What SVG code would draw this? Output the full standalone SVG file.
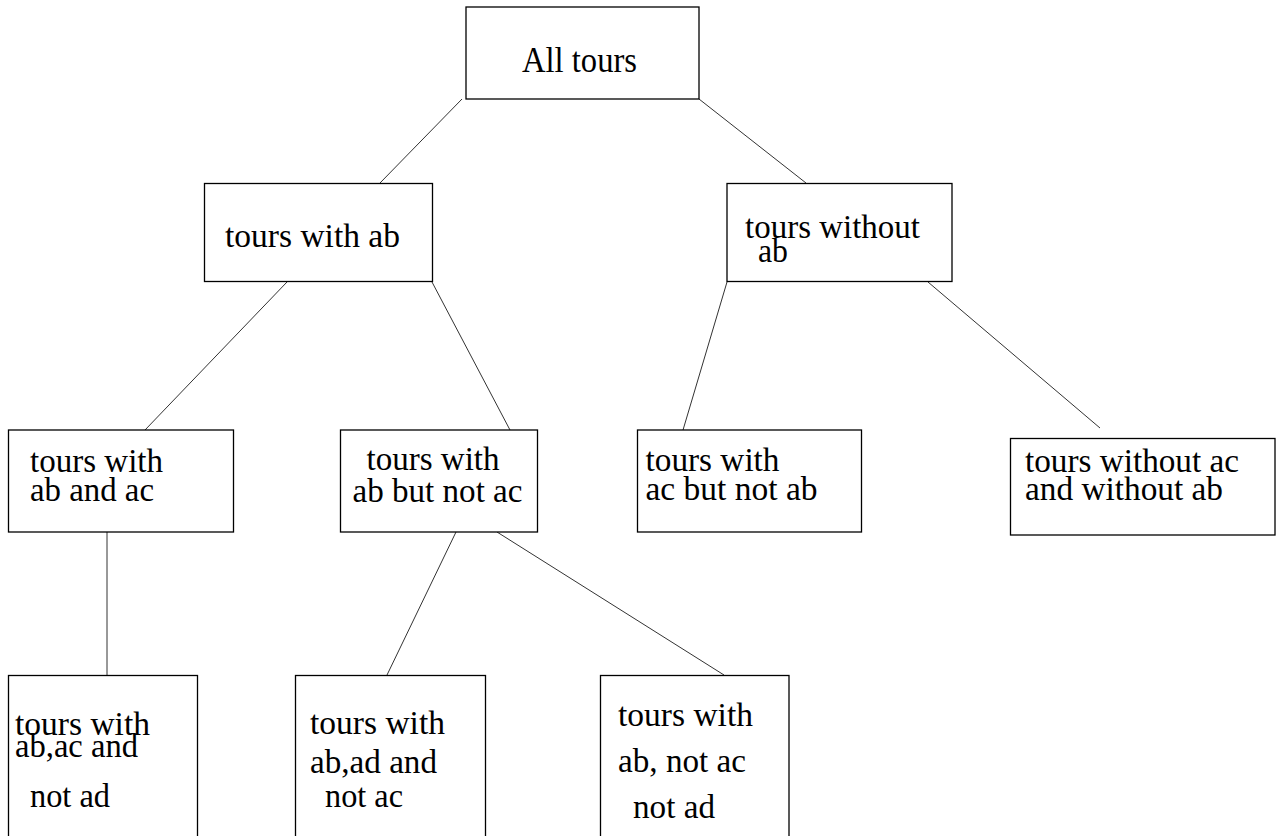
<svg xmlns="http://www.w3.org/2000/svg" width="1277" height="836" viewBox="0 0 1277 836">
<style>
.box{fill:#ffffff;stroke:#000000;stroke-width:1.3}
.t{font-family:"Liberation Serif","Times New Roman",serif;font-size:33px;fill:#000000}
.big{font-size:36px}
.c{stroke:#333333;stroke-width:1;fill:none}
</style>
<rect width="1277" height="836" fill="#ffffff"/>
<g id="connectors">
<line class="c" x1="462" y1="99" x2="380" y2="183"/>
<line class="c" x1="699" y1="99" x2="806" y2="183"/>
<line class="c" x1="287" y1="282" x2="145" y2="430"/>
<line class="c" x1="432" y1="282" x2="510" y2="430"/>
<line class="c" x1="727" y1="282" x2="683" y2="430"/>
<line class="c" x1="928" y1="282" x2="1100" y2="428"/>
<line class="c" x1="107" y1="532" x2="107" y2="675"/>
<line class="c" x1="456" y1="532" x2="387" y2="675"/>
<line class="c" x1="497" y1="532" x2="724" y2="675"/>
</g>
<g id="all-tours">
<rect class="box" x="466" y="7" width="233" height="92"/>
<text class="t big" x="522" y="72" textLength="115" lengthAdjust="spacingAndGlyphs">All tours</text>
</g>
<g id="with-ab">
<rect class="box" x="204.5" y="183.5" width="228" height="98"/>
<text class="t" x="225" y="247" textLength="175" lengthAdjust="spacingAndGlyphs">tours with ab</text>
</g>
<g id="without-ab">
<rect class="box" x="727" y="183.5" width="225" height="98"/>
<text class="t" x="745" y="238" textLength="175" lengthAdjust="spacingAndGlyphs">tours without</text>
<text class="t" x="758" y="262" textLength="30" lengthAdjust="spacingAndGlyphs">ab</text>
</g>
<g id="ab-and-ac">
<rect class="box" x="8.5" y="430" width="225" height="102"/>
<text class="t" x="30" y="471.5" textLength="133" lengthAdjust="spacingAndGlyphs">tours with</text>
<text class="t" x="30" y="501" textLength="124" lengthAdjust="spacingAndGlyphs">ab and ac</text>
</g>
<g id="ab-not-ac">
<rect class="box" x="340.5" y="430" width="197" height="102"/>
<text class="t" x="366.5" y="469.5" textLength="133" lengthAdjust="spacingAndGlyphs">tours with</text>
<text class="t" x="352.5" y="501.5" textLength="170" lengthAdjust="spacingAndGlyphs">ab but not ac</text>
</g>
<g id="ac-not-ab">
<rect class="box" x="637.5" y="430" width="224" height="102"/>
<text class="t" x="645.5" y="471" textLength="134" lengthAdjust="spacingAndGlyphs">tours with</text>
<text class="t" x="645.5" y="500" textLength="172" lengthAdjust="spacingAndGlyphs">ac but not ab</text>
</g>
<g id="without-ac-ab">
<rect class="box" x="1010.5" y="438.5" width="264.5" height="96.5"/>
<text class="t" x="1025" y="471.5" textLength="214" lengthAdjust="spacingAndGlyphs">tours without ac</text>
<text class="t" x="1025" y="500" textLength="198" lengthAdjust="spacingAndGlyphs">and without ab</text>
</g>
<g id="ab-ac-not-ad">
<rect class="box" x="8.5" y="675.5" width="189" height="180"/>
<text class="t" x="15" y="735" textLength="135" lengthAdjust="spacingAndGlyphs">tours with</text>
<text class="t" x="15" y="757" textLength="123" lengthAdjust="spacingAndGlyphs">ab,ac and</text>
<text class="t" x="30" y="806.5" textLength="80" lengthAdjust="spacingAndGlyphs">not ad</text>
</g>
<g id="ab-ad-not-ac">
<rect class="box" x="295.5" y="675.5" width="190" height="180"/>
<text class="t" x="310" y="734" textLength="135" lengthAdjust="spacingAndGlyphs">tours with</text>
<text class="t" x="310" y="773" textLength="127" lengthAdjust="spacingAndGlyphs">ab,ad and</text>
<text class="t" x="325" y="806.5" textLength="78" lengthAdjust="spacingAndGlyphs">not ac</text>
</g>
<g id="ab-not-ac-not-ad">
<rect class="box" x="600.5" y="675.5" width="188.5" height="180"/>
<text class="t" x="618" y="726" textLength="135" lengthAdjust="spacingAndGlyphs">tours with</text>
<text class="t" x="618" y="772" textLength="128" lengthAdjust="spacingAndGlyphs">ab, not ac</text>
<text class="t" x="633" y="818" textLength="82" lengthAdjust="spacingAndGlyphs">not ad</text>
</g>
</svg>
